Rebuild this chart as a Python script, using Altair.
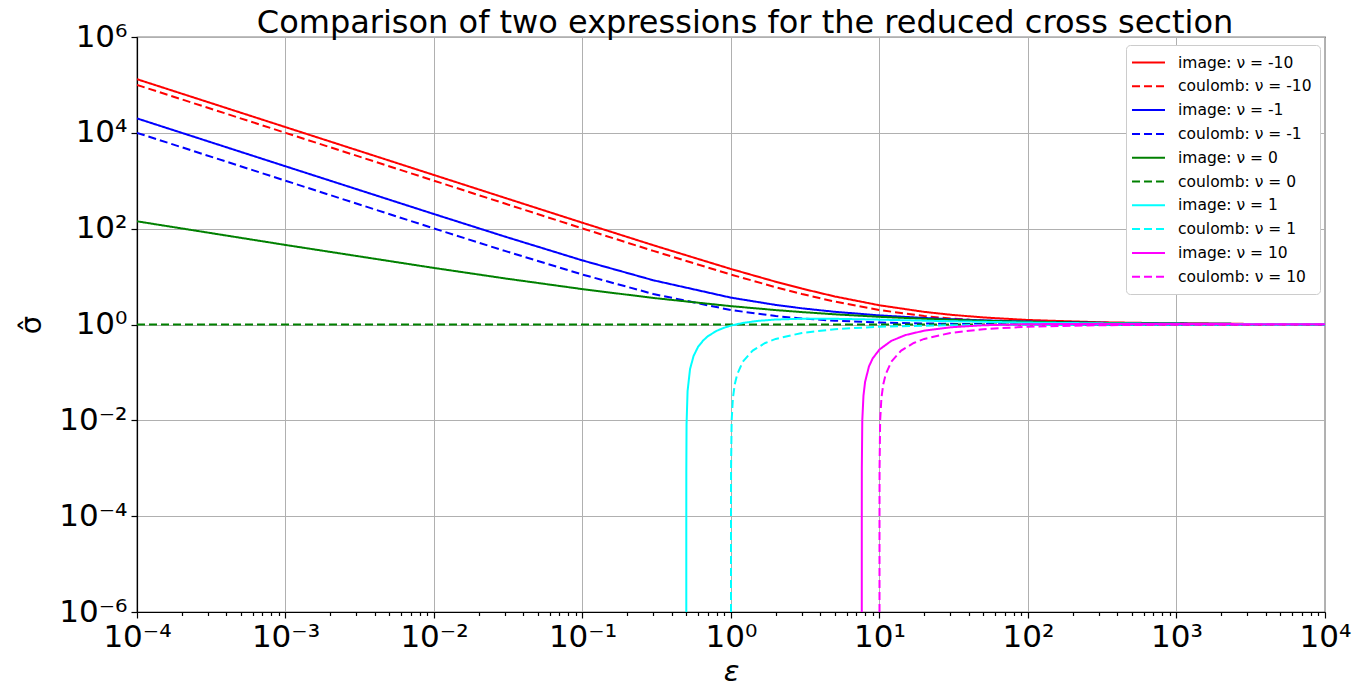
import altair as alt
import pandas as pd

# ---- legend / series definitions ----
labels = [
    "image: ν = -10", "coulomb: ν = -10",
    "image: ν = -1", "coulomb: ν = -1",
    "image: ν = 0", "coulomb: ν = 0",
    "image: ν = 1", "coulomb: ν = 1",
    "image: ν = 10", "coulomb: ν = 10",
]
colors = ["#ff0000", "#ff0000", "#0000ff", "#0000ff", "#008000", "#008000",
          "#00ffff", "#00ffff", "#ff00ff", "#ff00ff"]
dashes = [[1, 0], [8, 4], [1, 0], [8, 4], [1, 0], [8, 4], [1, 0], [8, 4], [1, 0], [8, 4]]

# ---- data ----
eps_main = [1e-4, 1e-3, 1e-2, 0.03, 0.1, 0.3, 1, 2, 3, 5, 10, 20, 30, 50, 100, 300, 1000, 3000, 1e4]
image_m10 = [1.316e5, 1.316e4, 1317, 440, 132.9, 45.1, 14.39, 7.809, 5.611, 3.849, 2.516, 1.835,
             1.6, 1.403, 1.242, 1.115, 1.0547, 1.0291, 1.0151]
coulomb_m10 = [1e5, 1e4, 1001, 334.3, 101, 34.33, 11, 6, 4.333, 3, 2, 1.5, 1.333, 1.2, 1.1,
               1.0333, 1.01, 1.0033, 1.001]
image_m1 = [2.0e4, 2002, 201.7, 68.41, 21.73, 8.374, 3.633, 2.561, 2.177, 1.841, 1.549, 1.367,
            1.292, 1.22, 1.151, 1.085, 1.046, 1.026, 1.014]
coulomb_m1 = [10001, 1001, 101, 34.33, 11, 4.333, 2, 1.5, 1.333, 1.2, 1.1, 1.05, 1.033, 1.02,
              1.01, 1.0033, 1.001, 1.0003, 1.0001]
image_0 = [142.4, 45.7, 15.14, 9.165, 5.47, 3.58, 2.414, 2.0, 1.816, 1.632, 1.447, 1.316, 1.258,
           1.2, 1.141, 1.082, 1.045, 1.026, 1.014]
eps_flat = [1e-4, 1e4]
coulomb_0 = [1.0, 1.0]

eps_image_p1 = [0.50000024, 0.500002, 0.50002, 0.5002, 0.502, 0.51, 0.53, 0.56, 0.6, 0.65, 0.7,
                0.8, 0.9, 1.0, 1.2, 1.5, 2, 3, 5, 10, 30, 100, 300, 1000, 1e4]
image_p1 = [1.0e-6, 8.4e-6, 8.4e-5, 8.4e-4, 8.34e-3, 0.041, 0.118, 0.221, 0.341, 0.465, 0.572,
            0.737, 0.857, 0.949, 1.075, 1.185, 1.270, 1.319, 1.315, 1.262, 1.169, 1.097, 1.057,
            1.031, 1.010]
eps_coulomb_p1 = [1.000001, 1.00001, 1.0001, 1.001, 1.01, 1.03, 1.06, 1.1, 1.2, 1.4, 1.7, 2, 3,
                  5, 10, 30, 100, 300, 1000, 1e4]
coulomb_p1 = [1e-6, 1e-5, 1e-4, 9.99e-4, 0.0099, 0.0291, 0.0566, 0.0909, 0.1667, 0.2857, 0.4118,
              0.5, 0.6667, 0.8, 0.9, 0.9667, 0.99, 0.9967, 0.999, 0.9999]
eps_image_p10 = [7.597475, 7.59753, 7.598065, 7.60343, 7.6571, 7.8, 8.0, 8.5, 9, 10, 12, 15, 20,
                 30, 50, 100, 300, 1000, 1e4]
image_p10 = [1e-6, 1e-5, 1e-4, 1.0e-3, 0.00998, 0.033, 0.0639, 0.1344, 0.1966, 0.301, 0.455,
             0.603, 0.744, 0.874, 0.964, 1.015, 1.031, 1.024, 1.009]
eps_coulomb_p10 = [10.00001, 10.0001, 10.001, 10.01, 10.1, 10.3, 10.6, 11, 12, 14, 17, 20, 30,
                   50, 100, 300, 1000, 1e4]
coulomb_p10 = [1e-6, 1e-5, 1e-4, 9.99e-4, 0.0099, 0.0291, 0.0566, 0.0909, 0.1667, 0.2857,
               0.4118, 0.5, 0.6667, 0.8, 0.9, 0.9667, 0.99, 0.999]

series = [
    (eps_main, image_m10), (eps_main, coulomb_m10),
    (eps_main, image_m1), (eps_main, coulomb_m1),
    (eps_main, image_0), (eps_flat, coulomb_0),
    (eps_image_p1, image_p1), (eps_coulomb_p1, coulomb_p1),
    (eps_image_p10, image_p10), (eps_coulomb_p10, coulomb_p10),
]

rows = []
for i, (xs, ys) in enumerate(series):
    for j, (x, y) in enumerate(zip(xs, ys)):
        rows.append({"eps": x, "sigma": y, "series": labels[i], "k": i, "j": j})
df = pd.DataFrame(rows)

x_ticks = []
for p in range(-4, 4):
    for m in range(1, 10):
        x_ticks.append(float(f"{m}e{p}"))
x_ticks.append(1e4)
y_ticks = [1e-6, 1e-4, 1e-2, 1, 1e2, 1e4, 1e6]

sup = {"-": "⁻", "0": "⁰", "1": "¹", "2": "²", "3": "³", "4": "⁴", "5": "⁵", "6": "⁶",
       "7": "⁷", "8": "⁸", "9": "⁹"}
E = "round(log(datum.value)/LN10)"
is_major = f"abs(log(datum.value)/LN10 - {E}) < 1e-6"
expr = "''"
for k in range(-6, 7):
    s = "10" + "".join(sup[c] for c in str(k))
    expr = f"{E} == {k} ? '{s}' : ({expr})"
label_expr = f"{is_major} ? ({expr}) : ''"

FONT = "DejaVu Sans"

chart = alt.Chart(df).mark_line(strokeWidth=2, clip=True).encode(
    x=alt.X("eps:Q",
            scale=alt.Scale(type="log", domain=[1e-4, 1e4], nice=False),
            axis=alt.Axis(values=x_ticks, labelExpr=label_expr, title="ε",
                          tickSize={"condition": {"test": is_major, "value": 6}, "value": 3.5},
                          gridOpacity={"condition": {"test": is_major, "value": 1}, "value": 0},
                          labelFlush=False, labelOverlap=False)),
    y=alt.Y("sigma:Q",
            scale=alt.Scale(type="log", domain=[1e-6, 1e6], nice=False),
            axis=alt.Axis(values=y_ticks, labelExpr=label_expr, title="σ̂", tickSize=6,
                          labelFlush=False, labelOverlap=False)),
    color=alt.Color("series:N", scale=alt.Scale(domain=labels, range=colors),
                    legend=alt.Legend(title=None, orient="none", legendX=989, legendY=8)),
    strokeDash=alt.StrokeDash("series:N", scale=alt.Scale(domain=labels, range=dashes),
                              legend=alt.Legend(title=None, orient="none", legendX=989, legendY=8)),
    detail="k:N",
    order="j:Q",
).properties(
    width=1188,
    height=575,
    title=alt.Title("Comparison of two expressions for the reduced cross section",
                    font=FONT, fontSize=32, fontWeight="normal", color="black", offset=-19,
                    dx=14),
    autosize=alt.AutoSizeParams(type="none"),
    padding={"left": 129, "top": 29, "right": 36, "bottom": 70},
).configure_view(
    stroke="black", strokeWidth=1.2
).configure_axis(
    labelFont=FONT, labelFontSize=31, labelColor="black",
    titleFont=FONT, titleFontSize=29, titleFontWeight="normal", titleColor="black",
    domainColor="black", domainWidth=1.2, tickColor="black", tickWidth=1.2,
    gridColor="#b0b0b0", gridWidth=1, labelPadding=4,
).configure_axisX(
    titleFontStyle="italic", titlePadding=5,
).configure_axisY(
    titlePadding=12,
).configure_legend(
    labelFont=FONT, labelFontSize=15.5, labelColor="black",
    symbolType="M-2,0H2", symbolStrokeWidth=2, symbolSize=272, symbolOffset=5,
    fillColor="white", strokeColor="#cccccc", padding=8, cornerRadius=4,
    rowPadding=5.8, labelOffset=20,
)

chart.save("out.html", embed_options={"renderer": "svg", "actions": False})
